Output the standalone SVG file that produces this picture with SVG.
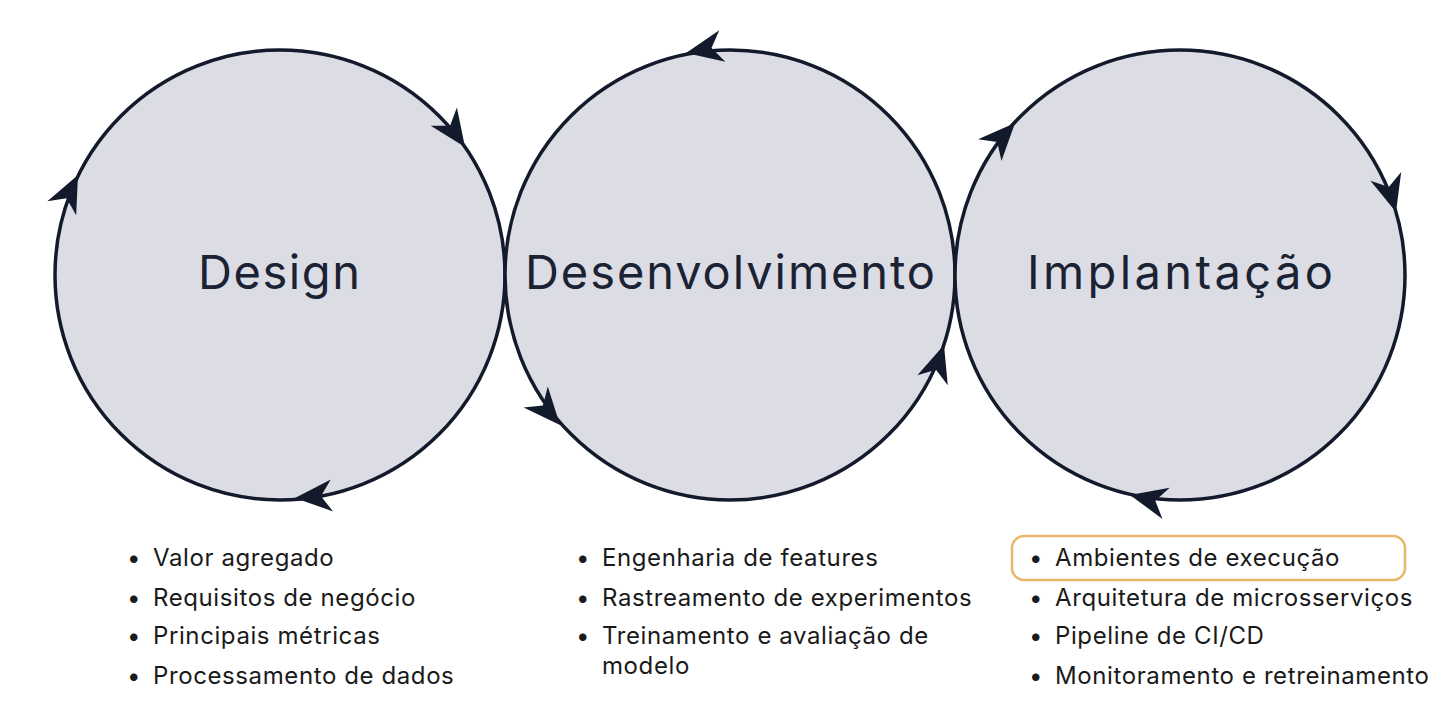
<svg xmlns="http://www.w3.org/2000/svg" width="1440" height="720" viewBox="0 0 1440 720">
<style>
.c{fill:#dcdce4;stroke:#121a2b;stroke-width:3.5}
.t{font-family:Inter,"Noto Sans",sans-serif;font-size:47px;fill:#1a2233;text-anchor:middle}
.b{font-family:Inter,"Noto Sans",sans-serif;font-size:24px;letter-spacing:0.6px;fill:#1a1a1a}
.a{fill:#121a2b}
</style>
<defs><path id="ah" d="M0,0 L-37,-16 L-26,0 L-37,16 Z"/></defs>
<rect width="1440" height="720" fill="#fff"/>
<g id="design"><circle class="c" cx="280" cy="275" r="225"/><text class="t" x="279" y="289" textLength="162">Design</text></g>
<g id="desenvolvimento"><circle class="c" cx="730" cy="275" r="225"/><text class="t" x="730" y="289" textLength="410">Desenvolvimento</text></g>
<g id="implantacao"><circle class="c" cx="1180" cy="275" r="225"/><text class="t" x="1180" y="289" textLength="306">Implantação</text></g>
<g id="connectors" class="a">
<use href="#ah" transform="translate(465,147) rotate(55)"/>
<use href="#ah" transform="translate(78,175) rotate(-64)"/>
<use href="#ah" transform="translate(295,498) rotate(176)"/>
<use href="#ah" transform="translate(686,53) rotate(169)"/>
<use href="#ah" transform="translate(560,425) rotate(49)"/>
<use href="#ah" transform="translate(944,345) rotate(-72)"/>
<use href="#ah" transform="translate(1015,123) rotate(-47)"/>
<use href="#ah" transform="translate(1396,212) rotate(74)"/>
<use href="#ah" transform="translate(1130,495) rotate(193)"/>
</g>
<g id="list-design" class="b">
<text x="127" y="566">•</text><text x="153" y="566">Valor agregado</text>
<text x="127" y="606">•</text><text x="153" y="606">Requisitos de negócio</text>
<text x="127" y="644">•</text><text x="153" y="644">Principais métricas</text>
<text x="127" y="684">•</text><text x="153" y="684">Processamento de dados</text>
</g>
<g id="list-desenvolvimento" class="b">
<text x="576" y="566">•</text><text x="602" y="566">Engenharia de features</text>
<text x="576" y="606">•</text><text x="602" y="606">Rastreamento de experimentos</text>
<text x="576" y="644">•</text><text x="602" y="644">Treinamento e avaliação de</text>
<text x="602" y="674">modelo</text>
</g>
<g id="list-implantacao" class="b">
<rect x="1012" y="536" width="393" height="44" rx="12" fill="none" stroke="#e8b86a" stroke-width="2.5"/>
<text x="1029" y="566">•</text><text x="1055" y="566">Ambientes de execução</text>
<text x="1029" y="606">•</text><text x="1055" y="606">Arquitetura de microsserviços</text>
<text x="1029" y="644">•</text><text x="1055" y="644">Pipeline de CI/CD</text>
<text x="1029" y="684">•</text><text x="1055" y="684">Monitoramento e retreinamento</text>
</g>
</svg>
